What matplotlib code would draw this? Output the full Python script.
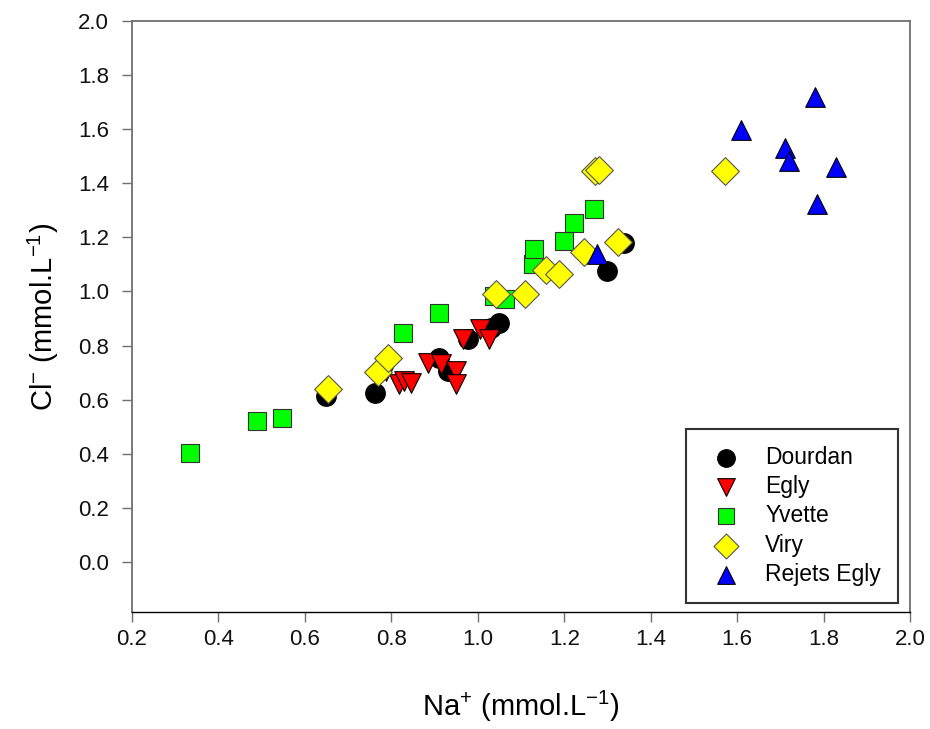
import matplotlib
matplotlib.use('Agg')
import matplotlib.pyplot as plt

plt.rcParams['font.family'] = ['Liberation Sans', 'DejaVu Sans']
plt.rcParams['mathtext.default'] = 'regular'

# Na+ (x) and Cl- (y) values, mmol/L
dourdan_x = [0.648, 0.762, 0.910, 0.930, 0.978, 1.030, 1.048, 1.300, 1.338]
dourdan_y = [0.612, 0.625, 0.753, 0.705, 0.824, 0.865, 0.883, 1.076, 1.180]

egly_x = [0.788, 0.818, 0.830, 0.846, 0.885, 0.915, 0.950, 0.950, 0.966, 1.004, 1.027]
egly_y = [0.705, 0.657, 0.668, 0.660, 0.735, 0.731, 0.705, 0.657, 0.824, 0.861, 0.824]

yvette_x = [0.335, 0.490, 0.548, 0.827, 0.911, 1.038, 1.064, 1.127, 1.131, 1.199, 1.222, 1.268]
yvette_y = [0.404, 0.520, 0.534, 0.846, 0.920, 0.983, 0.972, 1.102, 1.158, 1.187, 1.254, 1.306]

viry_x = [0.653, 0.769, 0.792, 1.041, 1.110, 1.157, 1.187, 1.245, 1.324, 1.271, 1.280, 1.572]
viry_y = [0.638, 0.701, 0.753, 0.991, 0.991, 1.080, 1.065, 1.147, 1.184, 1.447, 1.450, 1.447]

rejets_x = [1.781, 1.610, 1.710, 1.719, 1.828, 1.784, 1.275]
rejets_y = [1.718, 1.596, 1.529, 1.484, 1.462, 1.325, 1.139]

fig = plt.figure(figsize=(9.3, 7.29), dpi=100)
ax = fig.add_axes([0.142, 0.1605, 0.8365, 0.8107])

ax.scatter(dourdan_x, dourdan_y, s=200, marker='o', c='black', edgecolors='black', linewidths=0.8, label='Dourdan', zorder=3)
ax.scatter(egly_x, egly_y, s=200, marker='v', c='#ff0000', edgecolors='black', linewidths=0.8, label='Egly', zorder=3)
ax.scatter(yvette_x, yvette_y, s=165, marker='s', c='#00ff00', edgecolors='#333333', linewidths=0.8, label='Yvette', zorder=3)
ax.scatter(viry_x, viry_y, s=200, marker='D', c='#ffff00', edgecolors='#555555', linewidths=0.8, label='Viry', zorder=3)
ax.scatter(rejets_x, rejets_y, s=200, marker='^', c='#0000ff', edgecolors='black', linewidths=0.8, label='Rejets Egly', zorder=3)

ax.set_xlim(0.2, 2.0)
ax.set_ylim(-0.185, 2.0)
ax.set_xticks([0.2, 0.4, 0.6, 0.8, 1.0, 1.2, 1.4, 1.6, 1.8, 2.0])
ax.set_yticks([0.0, 0.2, 0.4, 0.6, 0.8, 1.0, 1.2, 1.4, 1.6, 1.8, 2.0])
ax.xaxis.set_major_formatter(matplotlib.ticker.FormatStrFormatter('%.1f'))
ax.yaxis.set_major_formatter(matplotlib.ticker.FormatStrFormatter('%.1f'))
ax.tick_params(direction='out', length=7.5, width=1, labelsize=16, colors='#707070', labelcolor='#111111')
ax.tick_params(axis='x', pad=5)
ax.tick_params(axis='y', pad=9)

for side in ['left', 'top', 'right']:
    ax.spines[side].set_color('#707070')
    ax.spines[side].set_linewidth(1.3)
ax.spines['bottom'].set_color('black')
ax.spines['bottom'].set_linewidth(1.0)

ax.set_xlabel(r'Na$^{+}$ (mmol.L$^{-1}$)', fontsize=21, labelpad=28)
ax.set_ylabel(r'Cl$^{-}$ (mmol.L$^{-1}$)', fontsize=21, labelpad=12)

leg = ax.legend(loc='lower right', bbox_to_anchor=(0.9846, 0.0152), fontsize=16.5, frameon=True,
                fancybox=False, edgecolor='black', borderpad=0.75, labelspacing=0.27,
                handlelength=2.0, handletextpad=0.7, borderaxespad=0, scatterpoints=1,
                markerscale=0.9)
leg.get_frame().set_linewidth(1.5)

fig.savefig('out.png', dpi=100)
